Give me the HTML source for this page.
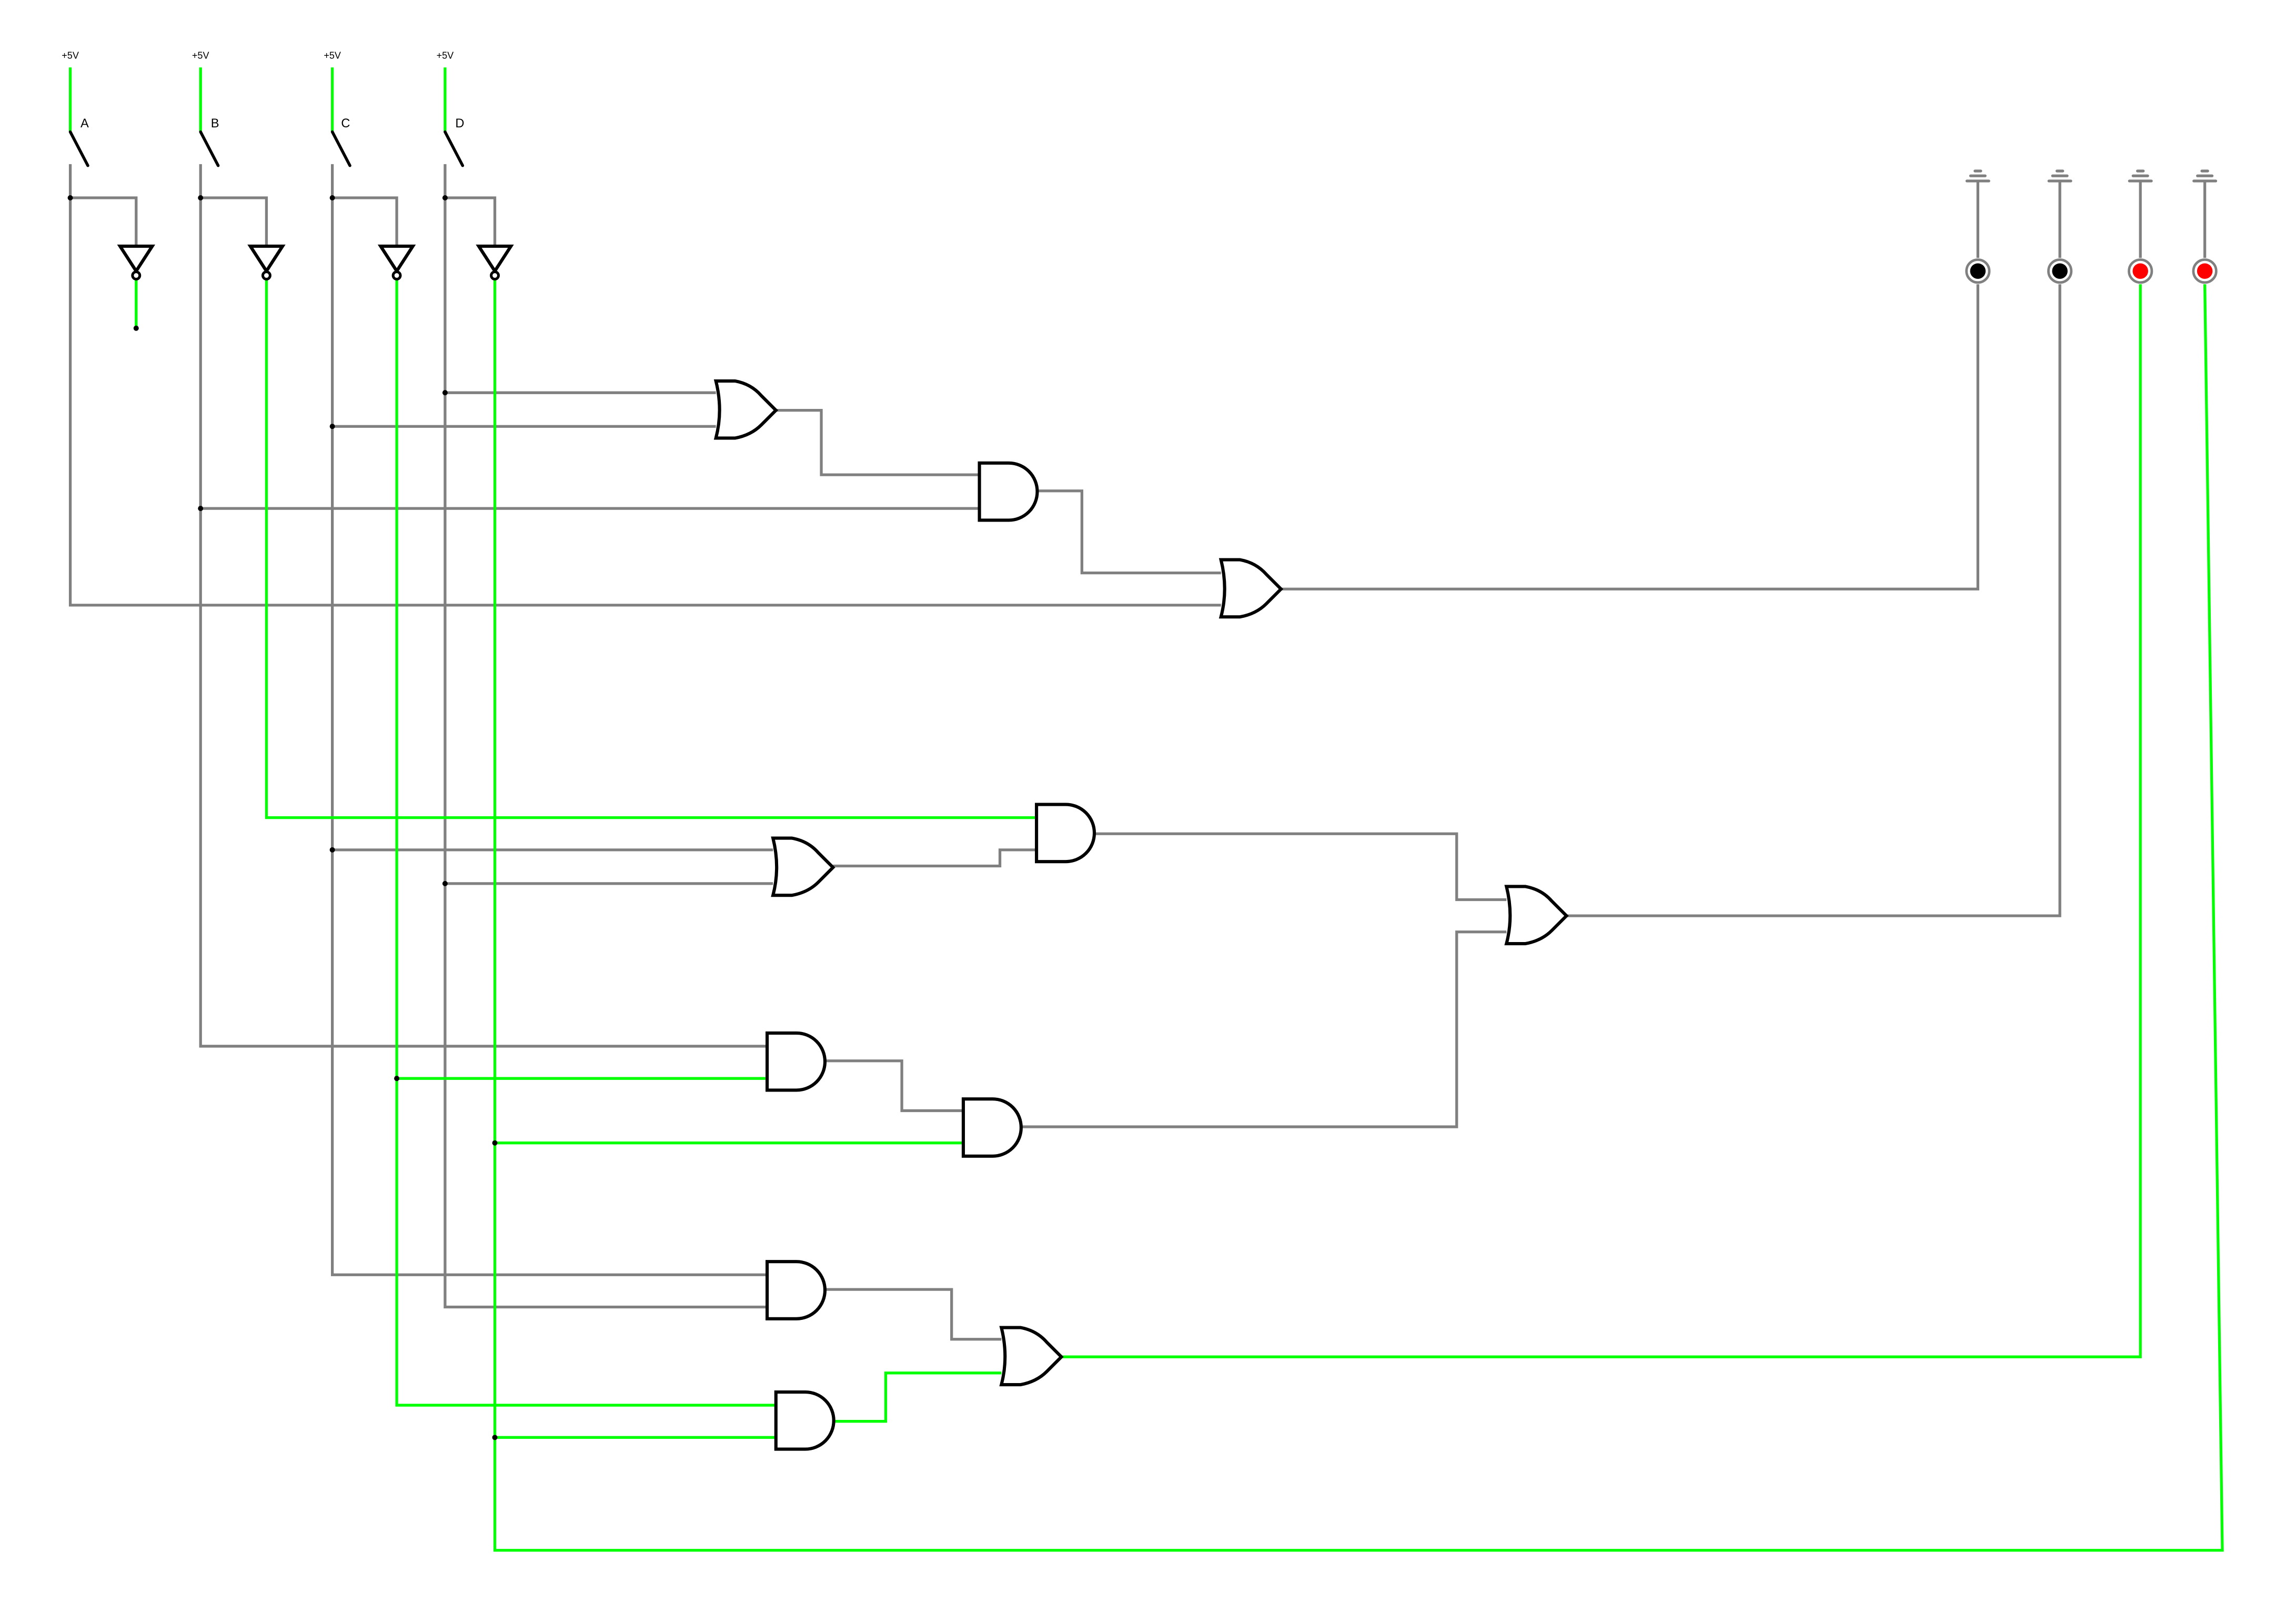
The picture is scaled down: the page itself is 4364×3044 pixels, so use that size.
<!DOCTYPE html>
<html><head><meta charset="utf-8"><style>
html,body{margin:0;padding:0;background:#fff;}
svg{display:block;}
</style></head><body>
<svg width="4364" height="3044" viewBox="0 0 1568.3 1093.3" preserveAspectRatio="none" xmlns="http://www.w3.org/2000/svg">
<defs>
<path id="and" d="M0,0 H20 A19.5,19.5 0 0 1 20,39 H0 Z" fill="#fff" stroke="#000" stroke-width="2.2"/>
<path id="or" d="M0,0 H13 Q24,2 31,10 L41,20 L31,30 Q24,37 13,39 H0 Q5,20 0,0 Z" fill="#fff" stroke="#000" stroke-width="2.2" stroke-linejoin="miter"/>
</defs>
<g fill="none" stroke="#808080" stroke-width="1.9" stroke-linejoin="miter">
<polyline points="48,112 48,413 834,413"/>
<polyline points="48,135 93,135 93,168"/>
<polyline points="137,112 137,714 524,714"/>
<polyline points="137,135 182,135 182,168"/>
<polyline points="137,347 669,347"/>
<polyline points="227,112 227,870 524,870"/>
<polyline points="227,135 271,135 271,168"/>
<polyline points="227,291 489,291"/>
<polyline points="227,580 528,580"/>
<polyline points="304,112 304,892 524,892"/>
<polyline points="304,135 338,135 338,168"/>
<polyline points="304,268 489,268"/>
<polyline points="304,603 528,603"/>
<polyline points="530,280 561,280 561,324 669,324"/>
<polyline points="708,335 739,335 739,391 834,391"/>
<polyline points="875,402 1351,402 1351,194"/>
<polyline points="569,591 683,591 683,580 708,580"/>
<polyline points="747,569 995,569 995,614 1029,614"/>
<polyline points="697,769 995,769 995,636 1029,636"/>
<polyline points="1070,625 1407,625 1407,194"/>
<polyline points="563,724 616,724 616,758 658,758"/>
<polyline points="563,880 650,880 650,914 684,914"/>
<line x1="1351" y1="123.5" x2="1351" y2="176"/>
<line x1="1407" y1="123.5" x2="1407" y2="176"/>
<line x1="1462" y1="123.5" x2="1462" y2="176"/>
<line x1="1506" y1="123.5" x2="1506" y2="176"/>
</g>
<g stroke="#808080" stroke-width="1.9" stroke-linecap="round">
<line x1="1343.5" y1="123.5" x2="1358.5" y2="123.5"/><line x1="1346" y1="120" x2="1356" y2="120"/><line x1="1349" y1="116.7" x2="1353" y2="116.7"/>
<line x1="1399.5" y1="123.5" x2="1414.5" y2="123.5"/><line x1="1402" y1="120" x2="1412" y2="120"/><line x1="1405" y1="116.7" x2="1409" y2="116.7"/>
<line x1="1454.5" y1="123.5" x2="1469.5" y2="123.5"/><line x1="1457" y1="120" x2="1467" y2="120"/><line x1="1460" y1="116.7" x2="1464" y2="116.7"/>
<line x1="1498.5" y1="123.5" x2="1513.5" y2="123.5"/><line x1="1501" y1="120" x2="1511" y2="120"/><line x1="1504" y1="116.7" x2="1508" y2="116.7"/>
</g>
<g fill="none" stroke="#00ff00" stroke-width="1.9">
<line x1="48" y1="46" x2="48" y2="90"/>
<line x1="137" y1="46" x2="137" y2="90"/>
<line x1="227" y1="46" x2="227" y2="90"/>
<line x1="304" y1="46" x2="304" y2="90"/>
<polyline points="93,190 93,224"/>
<polyline points="182,190 182,558 708,558"/>
<polyline points="271,190 271,959 530,959"/>
<polyline points="271,736 524,736"/>
<polyline points="338,190 338,1058 1518,1058 1506,194"/>
<polyline points="338,780 658,780"/>
<polyline points="338,981 530,981"/>
<polyline points="569,970 605,970 605,937 684,937"/>
<polyline points="725,926 1462,926 1462,194"/>
</g>
<g stroke="#000" stroke-width="2" stroke-linecap="round">
<line x1="48" y1="90" x2="60" y2="113"/>
<line x1="137" y1="90" x2="149" y2="113"/>
<line x1="227" y1="90" x2="239" y2="113"/>
<line x1="304" y1="90" x2="316" y2="113"/>
</g>
<g fill="#fff" stroke="#000" stroke-width="2.2">
<path d="M82,168 H104 L93,185 Z"/><circle cx="93" cy="188" r="2.5" stroke-width="1.8"/>
<path d="M171,168 H193 L182,185 Z"/><circle cx="182" cy="188" r="2.5" stroke-width="1.8"/>
<path d="M260,168 H282 L271,185 Z"/><circle cx="271" cy="188" r="2.5" stroke-width="1.8"/>
<path d="M327,168 H349 L338,185 Z"/><circle cx="338" cy="188" r="2.5" stroke-width="1.8"/>
</g>
<g fill="#000">
<circle cx="48" cy="135" r="1.8"/><circle cx="137" cy="135" r="1.8"/><circle cx="227" cy="135" r="1.8"/><circle cx="304" cy="135" r="1.8"/>
<circle cx="93" cy="224" r="1.8"/>
<circle cx="137" cy="347" r="1.8"/><circle cx="227" cy="291" r="1.8"/><circle cx="227" cy="580" r="1.8"/>
<circle cx="304" cy="268" r="1.8"/><circle cx="304" cy="603" r="1.8"/>
<circle cx="271" cy="736" r="1.8"/><circle cx="338" cy="780" r="1.8"/><circle cx="338" cy="981" r="1.8"/>
</g>
<use href="#or" x="489" y="260"/>
<use href="#and" x="669" y="316"/>
<use href="#or" x="834" y="382"/>
<use href="#and" x="708" y="549"/>
<use href="#or" x="528" y="572"/>
<use href="#or" x="1029" y="605"/>
<use href="#and" x="524" y="705"/>
<use href="#and" x="658" y="750"/>
<use href="#and" x="524" y="861"/>
<use href="#or" x="684" y="906"/>
<use href="#and" x="530" y="950"/>
<g stroke="#808080" stroke-width="1.7" fill="#fff">
<circle cx="1351" cy="185" r="7.8"/><circle cx="1407" cy="185" r="7.8"/><circle cx="1462" cy="185" r="7.8"/><circle cx="1506" cy="185" r="7.8"/>
</g>
<circle cx="1351" cy="185" r="5.3" fill="#000"/>
<circle cx="1407" cy="185" r="5.3" fill="#000"/>
<circle cx="1462" cy="185" r="5.3" fill="#f00"/>
<circle cx="1506" cy="185" r="5.3" fill="#f00"/>
<g font-family="Liberation Sans, sans-serif" font-size="6.5" fill="#000" text-anchor="middle">
<text x="48" y="40">+5V</text><text x="137" y="40">+5V</text><text x="227" y="40">+5V</text><text x="304" y="40">+5V</text>
</g>
<g font-family="Liberation Sans, sans-serif" font-size="8.5" fill="#000">
<text x="55" y="87">A</text><text x="144" y="87">B</text><text x="233" y="87">C</text><text x="311" y="87">D</text>
</g>
</svg>
</body></html>
